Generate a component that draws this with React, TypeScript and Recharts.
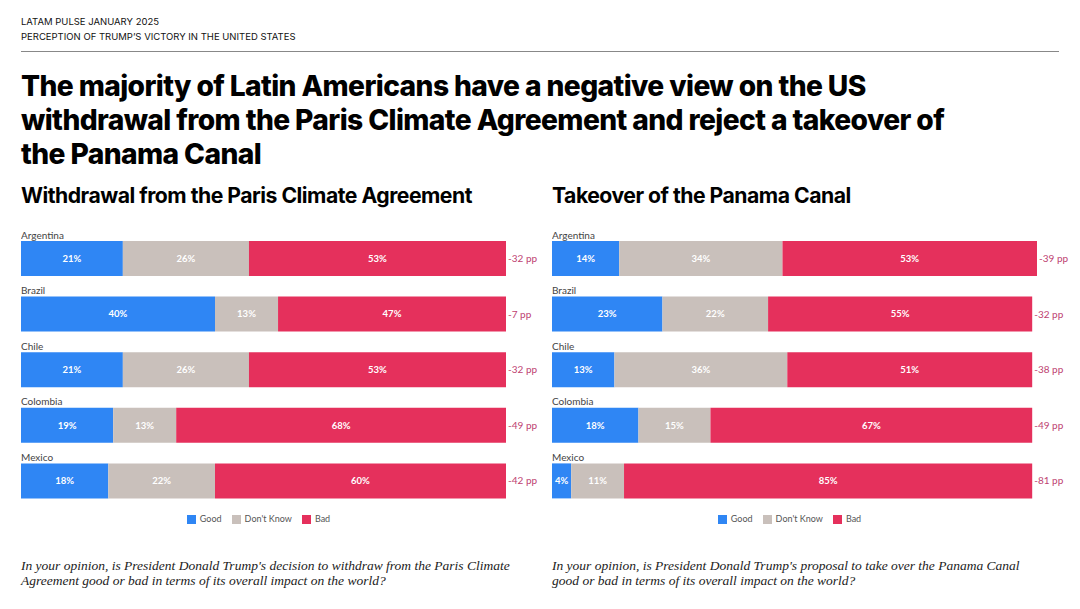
import { BarChart, Bar, XAxis, YAxis, Legend, LabelList } from 'recharts'

const countries = ['Argentina', 'Brazil', 'Chile', 'Colombia', 'Mexico']

// Withdrawal from the Paris Climate Agreement
const parisGood = [21, 40, 21, 19, 18]
const parisDontKnow = [26, 13, 26, 13, 22]
const parisBad = [53, 47, 53, 68, 60]
const parisNet = ['-32 pp', '-7 pp', '-32 pp', '-49 pp', '-42 pp']

// Takeover of the Panama Canal
const panamaGood = [14, 23, 13, 18, 4]
const panamaDontKnow = [34, 22, 36, 15, 11]
const panamaBad = [53, 55, 51, 67, 85]
const panamaNet = ['-39 pp', '-32 pp', '-38 pp', '-49 pp', '-81 pp']

const legendOrder = ['Good', "Don't Know", 'Bad']

const BLUE = '#2F86F4'
const GREY = '#C9C0BB'
const RED = '#E5305C'
const NET = '#BE4271'

const buildRows = (good: number[], dk: number[], bad: number[], net: string[]) =>
  countries.map((c, i) => ({ country: c, good: good[i], dk: dk[i], bad: bad[i], net: net[i] }))

const barFont = 'Lato, "Open Sans", sans-serif'

function CountryLabel(props: any) {
  const { x, y, value } = props
  return (
    <text x={x} y={y - 2.5} fill="#444" fontSize={10} fontFamily={barFont}>
      {value}
    </text>
  )
}

function NetLabel(props: any) {
  const { x, y, width, height, value } = props
  return (
    <text x={x + width + 2} y={y + height / 2 + 3.5} fill={NET} fontSize={10} fontFamily={barFont}>
      {value}
    </text>
  )
}

function StackChart({ rows }: { rows: ReturnType<typeof buildRows> }) {
  return (
    <BarChart
      width={540}
      height={320}
      data={rows}
      layout="vertical"
      margin={{ top: 10, right: 55, left: 0, bottom: 8 }}
      barSize={35}
    >
      <XAxis type="number" domain={[0, 100]} hide />
      <YAxis type="category" dataKey="country" hide />
      <Legend
        verticalAlign="bottom"
        height={24}
        iconType="square"
        iconSize={9}
        itemSorter={(item: any) => legendOrder.indexOf(item.value)}
        wrapperStyle={{ fontSize: 9, fontFamily: barFont, color: '#555', top: 292, bottom: 'auto' }}
        formatter={(v: string) => <span style={{ color: '#555' }}>{v}</span>}
      />
      <Bar dataKey="good" name="Good" stackId="a" fill={BLUE} isAnimationActive={false}>
        <LabelList dataKey="good" position="center" fill="#fff" fontSize={9.5} fontWeight={700} fontFamily={barFont} formatter={(v: any) => `${v}%`} />
        <LabelList dataKey="country" content={CountryLabel} />
      </Bar>
      <Bar dataKey="dk" name="Don't Know" stackId="a" fill={GREY} isAnimationActive={false}>
        <LabelList dataKey="dk" position="center" fill="#fff" fontSize={9.5} fontWeight={700} fontFamily={barFont} formatter={(v: any) => `${v}%`} />
      </Bar>
      <Bar dataKey="bad" name="Bad" stackId="a" fill={RED} isAnimationActive={false}>
        <LabelList dataKey="bad" position="center" fill="#fff" fontSize={9.5} fontWeight={700} fontFamily={barFont} formatter={(v: any) => `${v}%`} />
        <LabelList dataKey="net" content={NetLabel} />
      </Bar>
    </BarChart>
  )
}

const headFont = 'Inter, "Noto Sans", sans-serif'
const questionFont = '"Liberation Serif", "DejaVu Serif", serif'

export default function App() {
  const paris = buildRows(parisGood, parisDontKnow, parisBad, parisNet)
  const panama = buildRows(panamaGood, panamaDontKnow, panamaBad, panamaNet)

  return (
    <div style={{ position: 'relative', width: 1080, height: 609, margin: -8, background: '#fff', overflow: 'hidden', fontFamily: headFont }}>
      <div style={{ position: 'absolute', left: 0, top: 0, width: 1080, height: 4, background: 'linear-gradient(#e4e4e4, #fff)' }} />
      <div style={{ position: 'absolute', left: 21, top: 14, fontSize: 9.5, lineHeight: '15px', color: '#111' }}>
        <div>LATAM PULSE JANUARY 2025</div>
        <div>PERCEPTION OF TRUMP&#8217;S VICTORY IN THE UNITED STATES</div>
      </div>
      <div style={{ position: 'absolute', left: 21, top: 51, width: 1038, height: 1, background: '#888' }} />
      <div style={{ position: 'absolute', left: 21, top: 69, width: 1040, fontSize: 28.2, fontWeight: 800, lineHeight: '34px', letterSpacing: -0.6, color: '#000' }}>
        The majority of Latin Americans have a negative view on the US<br />
        withdrawal from the Paris Climate Agreement and reject a takeover of<br />
        the Panama Canal
      </div>
      <div style={{ position: 'absolute', left: 21, top: 182, fontSize: 21.2, fontWeight: 700, letterSpacing: -0.5, color: '#000' }}>
        Withdrawal from the Paris Climate Agreement
      </div>
      <div style={{ position: 'absolute', left: 552, top: 182, fontSize: 21.2, fontWeight: 700, letterSpacing: -0.5, color: '#000' }}>
        Takeover of the Panama Canal
      </div>
      <div style={{ position: 'absolute', left: 21, top: 221 }}>
        <StackChart rows={paris} />
      </div>
      <div style={{ position: 'absolute', left: 552, top: 221 }}>
        <StackChart rows={panama} />
      </div>
      <div style={{ position: 'absolute', left: 21, top: 558, width: 500, fontSize: 13.5, fontStyle: 'italic', lineHeight: '15px', color: '#222', fontFamily: questionFont }}>
        In your opinion, is President Donald Trump's decision to withdraw from the Paris Climate Agreement good or bad in terms of its overall impact on the world?
      </div>
      <div style={{ position: 'absolute', left: 552, top: 558, width: 480, fontSize: 13.5, fontStyle: 'italic', lineHeight: '15px', color: '#222', fontFamily: questionFont }}>
        In your opinion, is President Donald Trump's proposal to take over the Panama Canal good or bad in terms of its overall impact on the world?
      </div>
    </div>
  )
}
